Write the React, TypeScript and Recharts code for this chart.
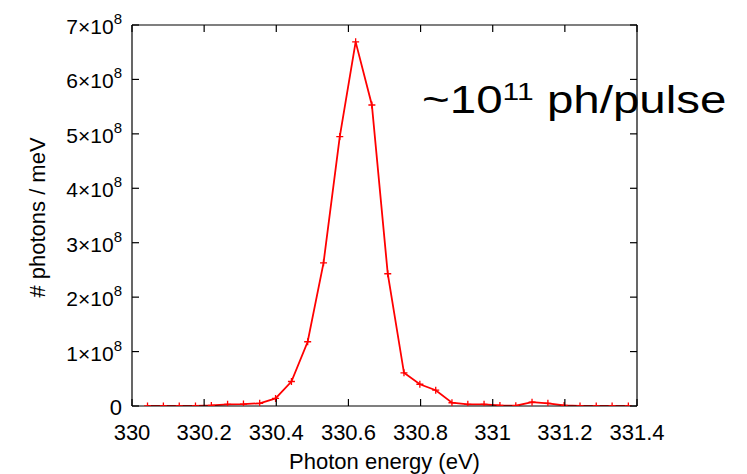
import { LineChart, Line, XAxis, YAxis } from 'recharts';

// photon energy (eV) of each sample
const energy = [
  330.043, 330.087, 330.131, 330.176, 330.22, 330.265, 330.309, 330.354, 330.398, 330.442,
  330.487, 330.531, 330.576, 330.62, 330.665, 330.709, 330.754, 330.798, 330.842, 330.887,
  330.931, 330.976, 331.02, 331.064, 331.109, 331.153, 331.198, 331.242, 331.287, 331.331,
  331.376,
];

// photons per meV, in units of 1e8
const photons = [
  0.0, 0.0, 0.0, 0.0, 0.01, 0.03, 0.035, 0.05, 0.14, 0.45,
  1.18, 2.63, 4.95, 6.69, 5.53, 2.43, 0.61, 0.4, 0.29, 0.06,
  0.03, 0.03, 0.01, 0.005, 0.07, 0.05, 0.01, 0.0, 0.0, 0.0,
  0.0,
];

const xTicks = [330, 330.2, 330.4, 330.6, 330.8, 331, 331.2, 331.4];
const yTicks = [0, 1, 2, 3, 4, 5, 6, 7].map((n) => n * 1e8);

const data = energy.map((e, i) => ({ e, n: photons[i] * 1e8 }));

const FONT = '"Liberation Sans", Arial, Helvetica, sans-serif';
const TICK = 7;

const fmtX = (v: number) => String(Math.round(v * 10) / 10);

const BottomTick = ({ x, y, payload }: any) => (
  <g>
    <line x1={x} y1={y} x2={x} y2={y - TICK} stroke="#000" strokeWidth={1.2} />
    <text x={x} y={y + 34} textAnchor="middle" fontSize={22} fontFamily={FONT} fill="#000">
      {fmtX(payload.value)}
    </text>
  </g>
);

const TopTick = ({ x, y }: any) => (
  <line x1={x} y1={y} x2={x} y2={y + TICK} stroke="#000" strokeWidth={1.2} />
);

const LeftTick = ({ x, y, payload }: any) => {
  const n = Math.round(payload.value / 1e8);
  return (
    <g>
      <line x1={x} y1={y} x2={x + TICK} y2={y} stroke="#000" strokeWidth={1.2} />
      {n === 0 ? (
        <text x={x - 10} y={y + 9} textAnchor="end" fontSize={22} fontFamily={FONT} fill="#000">0</text>
      ) : (
        <text x={x - 10} y={y + 9} textAnchor="end" fontSize={21} fontFamily={FONT} fill="#000">
          {`${n}\u00d710`}
          <tspan fontSize={15} dy={-10}>8</tspan>
        </text>
      )}
    </g>
  );
};

const RightTick = ({ x, y }: any) => (
  <line x1={x} y1={y} x2={x - TICK} y2={y} stroke="#000" strokeWidth={1.2} />
);

const Cross = ({ cx, cy, index }: any) => (
  <path
    key={index}
    d={`M${cx - 3.5},${cy}H${cx + 3.5}M${cx},${cy - 3.5}V${cy + 3.5}`}
    stroke="#ff0000"
    strokeWidth={1.3}
    fill="none"
  />
);

export default function App() {
  return (
    <div style={{ position: 'absolute', left: 0, top: 0, width: 747, height: 474, background: '#fff' }}>
      <LineChart width={747} height={474} data={data} margin={{ top: 0, right: 0, bottom: 0, left: 0 }}>
        <XAxis
          xAxisId="bottom"
          dataKey="e"
          type="number"
          domain={[330, 331.4]}
          ticks={xTicks}
          allowDataOverflow
          height={68}
          tickSize={0}
          tickMargin={0}
          tickLine={false}
          axisLine={{ stroke: '#000', strokeWidth: 1.2 }}
          tick={<BottomTick />}
          interval={0}
          label={{
            content: ({ viewBox }: any) => (
              <text
                x={viewBox.x + viewBox.width / 2}
                y={viewBox.y + 63}
                textAnchor="middle"
                fontSize={22}
                fontFamily={FONT}
                fill="#000"
              >
                Photon energy (eV)
              </text>
            ),
          }}
        />
        <XAxis
          xAxisId="top"
          orientation="top"
          dataKey="e"
          type="number"
          domain={[330, 331.4]}
          ticks={xTicks}
          allowDataOverflow
          height={25}
          tickSize={0}
          tickMargin={0}
          tickLine={false}
          axisLine={{ stroke: '#000', strokeWidth: 1.2 }}
          tick={<TopTick />}
          interval={0}
        />
        <YAxis
          yAxisId="left"
          type="number"
          domain={[0, 7e8]}
          ticks={yTicks}
          allowDataOverflow
          width={132}
          tickSize={0}
          tickMargin={0}
          tickLine={false}
          axisLine={{ stroke: '#000', strokeWidth: 1.2 }}
          tick={<LeftTick />}
          interval={0}
          label={{
            content: ({ viewBox }: any) => {
              const x = viewBox.x + 45;
              const y = viewBox.y + viewBox.height / 2 + 2;
              return (
                <text
                  x={x}
                  y={y}
                  transform={`rotate(-90, ${x}, ${y})`}
                  textAnchor="middle"
                  fontSize={22}
                  fontFamily={FONT}
                  fill="#000"
                >
                  # photons / meV
                </text>
              );
            },
          }}
        />
        <YAxis
          yAxisId="right"
          orientation="right"
          type="number"
          domain={[0, 7e8]}
          ticks={yTicks}
          allowDataOverflow
          width={110}
          tickSize={0}
          tickMargin={0}
          tickLine={false}
          axisLine={{ stroke: '#000', strokeWidth: 1.2 }}
          tick={<RightTick />}
          interval={0}
        />
        <Line
          xAxisId="bottom"
          yAxisId="left"
          dataKey="n"
          type="linear"
          stroke="#ff0000"
          strokeWidth={1.8}
          dot={<Cross />}
          activeDot={false}
          isAnimationActive={false}
        />
      </LineChart>
      <svg width={747} height={474} style={{ position: 'absolute', left: 0, top: 0, pointerEvents: 'none' }}>
        <g transform="translate(422,113) scale(1.25,1)">
          <text x={0} y={0} fontSize={38} fontFamily={FONT} fill="#000">
            ~10
            <tspan fontSize={24} dy={-13}>11</tspan>
            <tspan dy={13}> ph/pulse</tspan>
          </text>
        </g>
      </svg>
    </div>
  );
}
